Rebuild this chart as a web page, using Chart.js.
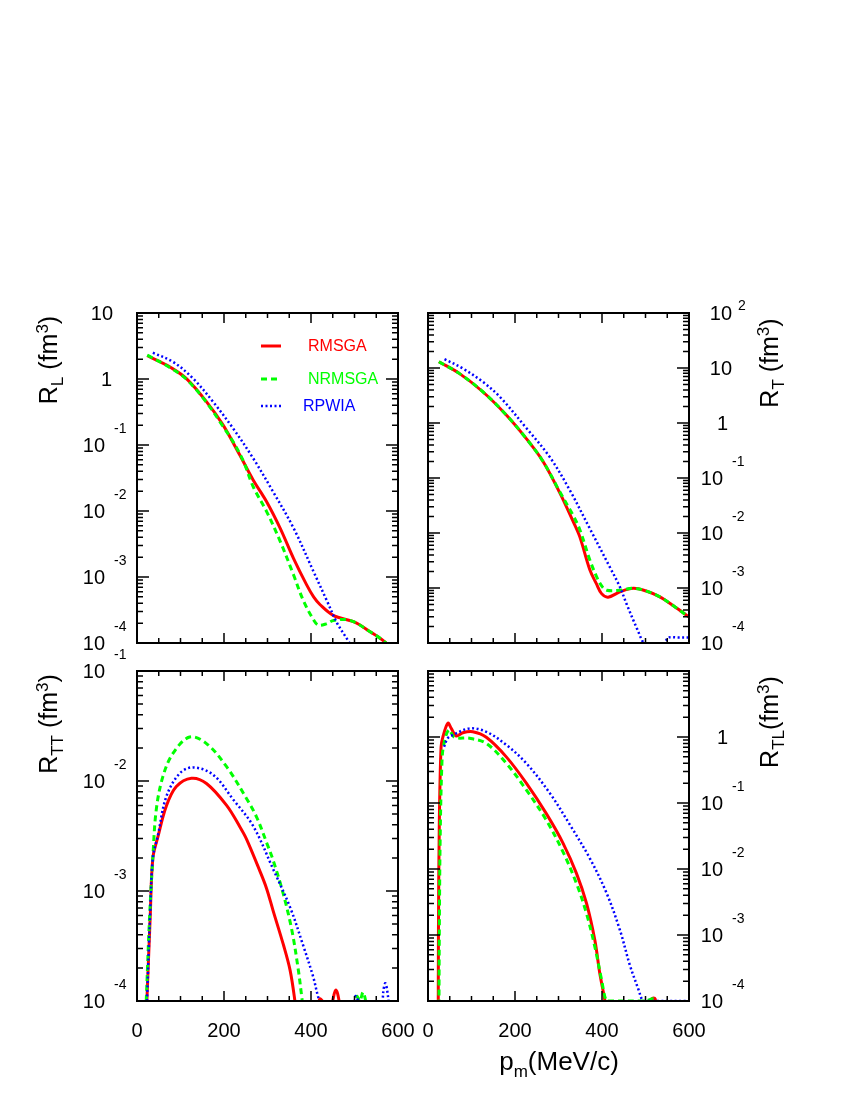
<!DOCTYPE html>
<html>
<head>
<meta charset="utf-8">
<script src="https://cdn.jsdelivr.net/npm/chart.js@4.4.0/dist/chart.umd.min.js"></script>
<style>
  body { margin: 0; background: #fff; }
  #page { position: relative; width: 850px; height: 1100px; font-family: "Liberation Sans", Arial, sans-serif; color: #000; }
  canvas { position: absolute; left: 0; top: 0; }
  .ttl { position: absolute; font-size: 25px; white-space: nowrap; line-height: 1; transform: translate(-50%, -50%) rotate(-90deg); }
  .xt { position: absolute; font-size: 26px; white-space: nowrap; line-height: 1; transform: translate(-50%, -50%); }
  .ttl sub, .ttl sup, .xt sub { font-size: 17px; }
  .lg { position: absolute; font-size: 16px; white-space: nowrap; line-height: 1; transform: translateY(-50%); }
</style>
</head>
<body>
<div id="page">
  <canvas id="cL" width="850" height="1100"></canvas>
  <canvas id="cT" width="850" height="1100"></canvas>
  <canvas id="cTT" width="850" height="1100"></canvas>
  <canvas id="cTL" width="850" height="1100"></canvas>

  <div class="ttl" style="left:50px;top:360px">R<sub>L</sub> (fm<sup>3</sup>)</div>
  <div class="ttl" style="left:771px;top:363px">R<sub>T</sub> (fm<sup>3</sup>)</div>
  <div class="ttl" style="left:50px;top:724px">R<sub>TT</sub> (fm<sup>3</sup>)</div>
  <div class="ttl" style="left:771px;top:722px">R<sub>TL</sub>(fm<sup>3</sup>)</div>
  <div class="xt" style="left:559px;top:1064px">p<sub>m</sub>(MeV/c)</div>

  <div class="lg" style="left:308px;top:346px;color:#ff0000">RMSGA</div>
  <div class="lg" style="left:308px;top:379px;color:#00ff00">NRMSGA</div>
  <div class="lg" style="left:303px;top:406px;color:#0000ff">RPWIA</div>
</div>
<script>
// p_m in MeV/c, responses in fm^3

// R_L
const rlRmsgaP = [23.5, 50, 75, 113, 160, 198, 236, 267, 298, 329, 360, 390, 406, 421, 452, 498, 536, 571, 600];
const rlRmsga = [2.25, 1.86, 1.53, 1.02, 0.45, 0.20, 0.071, 0.0295, 0.0138, 5.5e-3, 1.9e-3, 7.6e-4, 5.0e-4, 3.8e-4, 2.6e-4, 2.1e-4, 1.48e-4, 1.02e-4, 6.3e-5];
const rlNrmsgaP = [23.5, 75, 113, 160, 198, 221, 245, 267, 298, 329, 360, 383, 406, 417, 435, 452, 490, 536, 571, 600];
const rlNrmsga = [2.3, 1.5, 1.0, 0.44, 0.19, 0.112, 0.056, 0.0234, 9.8e-3, 3.5e-3, 1.07e-3, 4.3e-4, 2.24e-4, 1.86e-4, 1.95e-4, 2.2e-4, 2.2e-4, 1.48e-4, 1.02e-4, 6.3e-5];
const rlRpwiaP = [36.5, 82.6, 128.8, 175, 221, 267, 313, 360, 406, 437, 460, 486.5, 500];
const rlRpwia = [2.5, 1.82, 1.02, 0.45, 0.178, 0.063, 0.0195, 5.5e-3, 1.2e-3, 4.3e-4, 2.0e-4, 1.05e-4, 7e-5];

// R_T
const rtRmsgaP = [25, 72.6, 126, 180, 226, 264.5, 303, 333.6, 349, 372, 387, 399, 414, 441, 472, 500, 533, 565, 600];
const rtRmsga = [13.0, 7.9, 3.7, 1.4, 0.52, 0.20, 0.0537, 0.0162, 8.5e-3, 2.14e-3, 1.2e-3, 7.9e-4, 6.8e-4, 8.5e-4, 9.9e-4, 8.9e-4, 6.9e-4, 4.7e-4, 2.95e-4];
const rtNrmsgaP = [25, 72.6, 126, 180, 226, 264.5, 303, 333.6, 349, 372, 388, 400, 411, 441, 472, 500, 533, 565, 600];
const rtNrmsga = [13.0, 7.9, 3.7, 1.4, 0.52, 0.20, 0.056, 0.0209, 0.0115, 3.24e-3, 1.58e-3, 1.07e-3, 9.1e-4, 9.1e-4, 9.9e-4, 8.9e-4, 6.9e-4, 4.7e-4, 2.95e-4];
const rtRpwiaP = [38, 80, 126, 165, 226, 280, 326, 372, 418, 441, 457, 472, 480, 491, 497, 520, 540, 547, 552, 575, 600];
const rtRpwia = [14.5, 9.8, 5.6, 3.0, 0.81, 0.24, 0.060, 0.012, 2.4e-3, 1.05e-3, 5.0e-4, 2.6e-4, 1.86e-4, 1.17e-4, 1.0e-4, 9.5e-5, 9.5e-5, 1.1e-4, 1.26e-4, 1.26e-4, 1.26e-4];

// R_TT
const rttRmsgaP = [22.7, 30.4, 36.5, 48, 67.3, 90.4, 125, 159.7, 206, 237, 252, 283, 298, 313, 336, 352, 363, 372, 410, 420, 432, 445, 457, 467, 480];
const rttRmsga = [1e-4, 5.9e-4, 2.0e-3, 3.1e-3, 5.9e-3, 8.9e-3, 0.0106, 9.5e-3, 6.0e-3, 3.8e-3, 2.95e-3, 1.5e-3, 1.05e-3, 6.6e-4, 3.3e-4, 1.9e-4, 1e-4, 5e-5, 6e-5, 1.04e-4, 9.5e-5, 9e-5, 1.26e-4, 9e-5, 5e-5];
const rttNrmsgaP = [21.2, 29, 36.5, 44.3, 59.6, 82.6, 121, 159.7, 206, 252, 275, 298, 313, 336, 356, 371, 379, 390, 490, 505, 512, 520, 530, 540];
const rttNrmsga = [1e-4, 5.9e-4, 2.04e-3, 5.5e-3, 0.011, 0.0178, 0.0251, 0.0219, 0.0135, 6.9e-3, 4.7e-3, 2.75e-3, 1.9e-3, 9.5e-4, 4.4e-4, 1.9e-4, 1.07e-4, 5e-5, 5e-5, 1.1e-4, 1.0e-4, 1.2e-4, 8e-5, 5e-5];
const rttRpwiaP = [23, 30, 36.5, 48, 67.3, 98, 128.8, 175, 221, 267, 313, 352, 382, 405, 417, 425, 430, 440, 490, 502, 512, 525, 560, 566, 571, 577, 585];
const rttRpwia = [1e-4, 5.9e-4, 2.0e-3, 3.2e-3, 7.2e-3, 0.0117, 0.0133, 0.0114, 6.8e-3, 3.9e-3, 1.58e-3, 7.1e-4, 3.2e-4, 1.66e-4, 1.07e-4, 9e-5, 1.02e-4, 5e-5, 5e-5, 1.1e-4, 9e-5, 5e-5, 5e-5, 1.2e-4, 1.45e-4, 1.1e-4, 5e-5];

// R_TL
const rtlRmsgaP = [23.5, 24, 26, 30, 34, 45.6, 53.4, 65, 80, 103, 134, 180, 226, 272, 310.6, 341.5, 364.5, 383.6, 395, 406.7, 412, 505, 515, 522, 530];
const rtlRmsga = [3e-5, 1e-3, 0.05, 0.7, 0.99, 1.62, 1.35, 1.035, 1.16, 1.2, 0.99, 0.50, 0.20, 0.069, 0.0245, 8.5e-3, 3.0e-3, 8.3e-4, 2.6e-4, 1e-4, 5e-5, 5e-5, 1.08e-4, 1.08e-4, 5e-5];
const rtlNrmsgaP = [25, 26, 28, 32, 36, 48, 61, 95.6, 134, 180, 226, 272, 310.6, 341.5, 364.5, 383.6, 399, 410, 420, 500, 518, 530, 545];
const rtlNrmsga = [3e-5, 1e-3, 0.03, 0.4, 0.75, 1.28, 0.99, 0.955, 0.80, 0.40, 0.158, 0.055, 0.018, 6.0e-3, 2.1e-3, 6.6e-4, 2.1e-4, 1e-4, 1e-4, 1e-4, 1.08e-4, 9e-5, 6e-5];
const rtlRpwiaP = [37, 45, 57, 95.6, 134, 180, 226, 280, 326, 372, 410, 441, 464, 484, 492, 497, 600];
const rtlRpwia = [0.71, 0.95, 1.07, 1.35, 1.2, 0.76, 0.40, 0.141, 0.047, 0.0145, 4.4e-3, 1.2e-3, 3.5e-4, 1.48e-4, 1.05e-4, 1e-4, 1e-4];

const xTicks = [0, 200, 400, 600];

const RED = "#ff0000", GREEN = "#00ff00", BLUE = "#0000ff";
const FONT = '"Liberation Sans", Arial, sans-serif';

function toXY(p, v) {
  return p.map((x, i) => ({ x: x, y: v[i] }));
}

function lines(red, green, blue) {
  return [
    { label: "RMSGA", data: red, borderColor: RED, borderWidth: 3, order: 3 },
    { label: "NRMSGA", data: green, borderColor: GREEN, borderWidth: 3, borderDash: [6, 4], order: 2 },
    { label: "RPWIA", data: blue, borderColor: BLUE, borderWidth: 2.5, borderDash: [2, 2.5], order: 1 },
  ];
}

// "10", "1", or 10 with a superscript exponent, placed like the original
function yLabel(ctx, e, y, side) {
  const L = side === "left";
  ctx.textAlign = "right";
  ctx.font = "20px " + FONT;
  if (e === 0) {
    ctx.fillText("1", L ? 112 : 728, y + 7);
    return;
  }
  let right, supX, supDy;
  if (e === 1) {
    ctx.fillText("10", L ? 113 : 732, y + 7);
    return;
  } else if (e > 1) {
    right = L ? 113 : 732; supX = right + 6; supDy = 8;
  } else {
    right = L ? 105 : 723; supX = right + 9; supDy = 17;
  }
  ctx.fillText("10", right, y + 7);
  ctx.textAlign = "left";
  ctx.font = "14px " + FONT;
  ctx.fillText(String(e), supX, y - supDy + 5);
}

const framePlugin = {
  id: "frame",
  afterDatasetsDraw(chart, args, opts) {
    const ctx = chart.ctx, a = chart.chartArea;
    const xs = chart.scales.x, ys = chart.scales.y;
    ctx.save();
    ctx.strokeStyle = "#000";
    ctx.fillStyle = "#000";
    ctx.setLineDash([]);

    // x ticks, top and bottom, pointing in
    ctx.lineWidth = 1.5;
    for (let v = 0; v <= 600; v += 50) {
      const px = xs.getPixelForValue(v);
      const len = v % 200 === 0 ? 10 : 5;
      ctx.beginPath();
      ctx.moveTo(px, a.bottom); ctx.lineTo(px, a.bottom - len);
      ctx.moveTo(px, a.top); ctx.lineTo(px, a.top + len);
      ctx.stroke();
    }
    // y ticks, log decades with minor 2..9, both sides
    for (let e = opts.eMin; e <= opts.eMax; e++) {
      for (let k = 1; k <= 9; k++) {
        if (e === opts.eMax && k > 1) break;
        const py = ys.getPixelForValue(k * Math.pow(10, e));
        const len = k === 1 ? 12 : 6;
        ctx.beginPath();
        ctx.moveTo(a.left, py); ctx.lineTo(a.left + len, py);
        ctx.moveTo(a.right, py); ctx.lineTo(a.right - len, py);
        ctx.stroke();
      }
    }
    // box
    ctx.lineWidth = 2;
    ctx.strokeRect(a.left, a.top, a.right - a.left, a.bottom - a.top);

    // tick labels
    const eTop = opts.skipTop ? opts.eMax - 1 : opts.eMax;
    for (let e = opts.eMin; e <= eTop; e++) {
      yLabel(ctx, e, ys.getPixelForValue(Math.pow(10, e)), opts.side);
    }
    if (opts.xLabels) {
      ctx.textAlign = "center";
      ctx.font = "20px " + FONT;
      xTicks.forEach((v) => ctx.fillText(String(v), xs.getPixelForValue(v), 1037));
    }

    // legend samples
    if (opts.legend) {
      const x0 = 261, x1 = 281;
      chart.data.datasets.forEach((ds, i) => {
        const ly = [346, 379, 406][i];
        ctx.strokeStyle = ds.borderColor;
        ctx.lineWidth = ds.borderWidth;
        ctx.setLineDash(ds.borderDash || []);
        ctx.beginPath();
        ctx.moveTo(x0, ly); ctx.lineTo(x1, ly);
        ctx.stroke();
      });
    }
    ctx.restore();
  },
};

function makePanel(id, box, eMin, eMax, frameOpts, datasets) {
  return new Chart(document.getElementById(id), {
    type: "line",
    data: { datasets: datasets },
    options: {
      responsive: false,
      devicePixelRatio: 1,
      animation: false,
      events: [],
      layout: { padding: { left: box[0], top: box[1], right: 850 - box[2], bottom: 1100 - box[3] } },
      elements: {
        point: { radius: 0 },
        line: { tension: 0.35, fill: false, borderCapStyle: "butt" },
      },
      scales: {
        x: { type: "linear", min: 0, max: 600, display: false },
        y: { type: "logarithmic", min: Math.pow(10, eMin), max: Math.pow(10, eMax), display: false },
      },
      plugins: {
        legend: { display: false },
        tooltip: { enabled: false },
        frame: Object.assign({ eMin: eMin, eMax: eMax }, frameOpts),
      },
    },
    plugins: [framePlugin],
  });
}

makePanel("cL", [137, 313, 398, 643], -4, 1, { side: "left", legend: true },
  lines(toXY(rlRmsgaP, rlRmsga), toXY(rlNrmsgaP, rlNrmsga), toXY(rlRpwiaP, rlRpwia)));
makePanel("cT", [428, 313, 689, 643], -4, 2, { side: "right" },
  lines(toXY(rtRmsgaP, rtRmsga), toXY(rtNrmsgaP, rtNrmsga), toXY(rtRpwiaP, rtRpwia)));
makePanel("cTT", [137, 671, 398, 1001], -4, -1, { side: "left", xLabels: true },
  lines(toXY(rttRmsgaP, rttRmsga), toXY(rttNrmsgaP, rttNrmsga), toXY(rttRpwiaP, rttRpwia)));
makePanel("cTL", [428, 671, 689, 1001], -4, 1, { side: "right", xLabels: true, skipTop: true },
  lines(toXY(rtlRmsgaP, rtlRmsga), toXY(rtlNrmsgaP, rtlNrmsga), toXY(rtlRpwiaP, rtlRpwia)));
</script>
</body>
</html>
